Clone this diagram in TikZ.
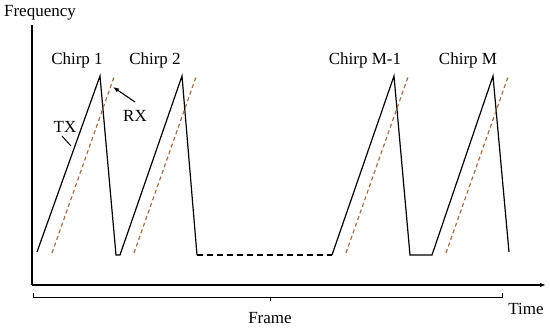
\documentclass[tikz,border=0pt]{standalone}
\usepackage{fontspec}
\setmainfont{Liberation Serif}
\usetikzlibrary{arrows.meta}
\definecolor{rxbrown}{RGB}{165,110,70}
\begin{document}
\begin{tikzpicture}[x=1pt,y=-1pt,
  lbl/.style={font=\fontsize{17}{19}\selectfont, inner sep=0pt},
  axis/.style={line width=1.3pt, black},
  tx/.style={line width=1.2pt, black, line join=miter},
  rx/.style={line width=1.2pt, rxbrown, dash pattern=on 4pt off 3pt},
  brace/.style={line width=1pt, black}]
\useasboundingbox (0,0) rectangle (550,329);
% axes
\coordinate (O) at (32,285);
\coordinate (Ytop) at (32,25);
\coordinate (Xend) at (546,285);
\draw[axis] (Ytop) -- (O);
\draw[axis, -{Latex[length=6pt,width=4.5pt]}] (O) -- (Xend);
\node[lbl] (freq) at (40,13) {Frequency};
\node[lbl] (time) at (526,309) {Time};
% TX
\coordinate (a0) at (37,252);
\coordinate (p1) at (100,76);
\coordinate (b1) at (116,255);
\coordinate (c1) at (120,255);
\coordinate (p2) at (182,76);
\coordinate (b2) at (197,255);
\coordinate (c2) at (332,255);
\coordinate (p3) at (394,76);
\coordinate (b3) at (410,255);
\coordinate (c3) at (432,255);
\coordinate (p4) at (493,76);
\coordinate (e4) at (509,252);
\draw[tx] (a0) -- (p1) -- (b1) -- (c1) -- (p2) -- (b2);
\draw[tx, dash pattern=on 6pt off 4pt] (b2) -- (c2);
\draw[tx] (c2) -- (p3) -- (b3) -- (c3) -- (p4) -- (e4);
% RX
\coordinate (r1s) at (52,253); \coordinate (r1e) at (114,77);
\coordinate (r2s) at (134,253); \coordinate (r2e) at (196,77);
\coordinate (r3s) at (346,253); \coordinate (r3e) at (408,77);
\coordinate (r4s) at (446,253); \coordinate (r4e) at (508,77);
\draw[rx] (r1s) -- (r1e);
\draw[rx] (r2s) -- (r2e);
\draw[rx] (r3s) -- (r3e);
\draw[rx] (r4s) -- (r4e);
% chirp labels
\node[lbl] (ch1) at (77,60) {Chirp 1};
\node[lbl] (ch2) at (155,60) {Chirp 2};
\node[lbl] (chm1) at (365,60) {Chirp M-1};
\node[lbl] (chm) at (468,60) {Chirp M};
% TX / RX labels
\node[lbl] (txl) at (65,127) {TX};
\coordinate (txa) at (62,136);
\coordinate (txb) at (71,146);
\draw[line width=1pt] (txa) -- (txb);
\node[lbl] (rxl) at (135,116) {RX};
\coordinate (rxa) at (135,102);
\coordinate (rxb) at (113,87);
\draw[line width=1.1pt, -{Latex[length=6pt,width=4.5pt]}] (rxa) -- (rxb);
% frame bracket
\coordinate (f1) at (33,293);
\coordinate (f2) at (33,297);
\coordinate (f3) at (502,297);
\coordinate (f4) at (502,293);
\coordinate (fm) at (270,297);
\coordinate (fmd) at (270,301);
\draw[brace] (f1) -- (f2) -- (f3) -- (f4);
\draw[brace] (fm) -- (fmd);
\node[lbl] (frame) at (270,318) {Frame};
\end{tikzpicture}
\end{document}
